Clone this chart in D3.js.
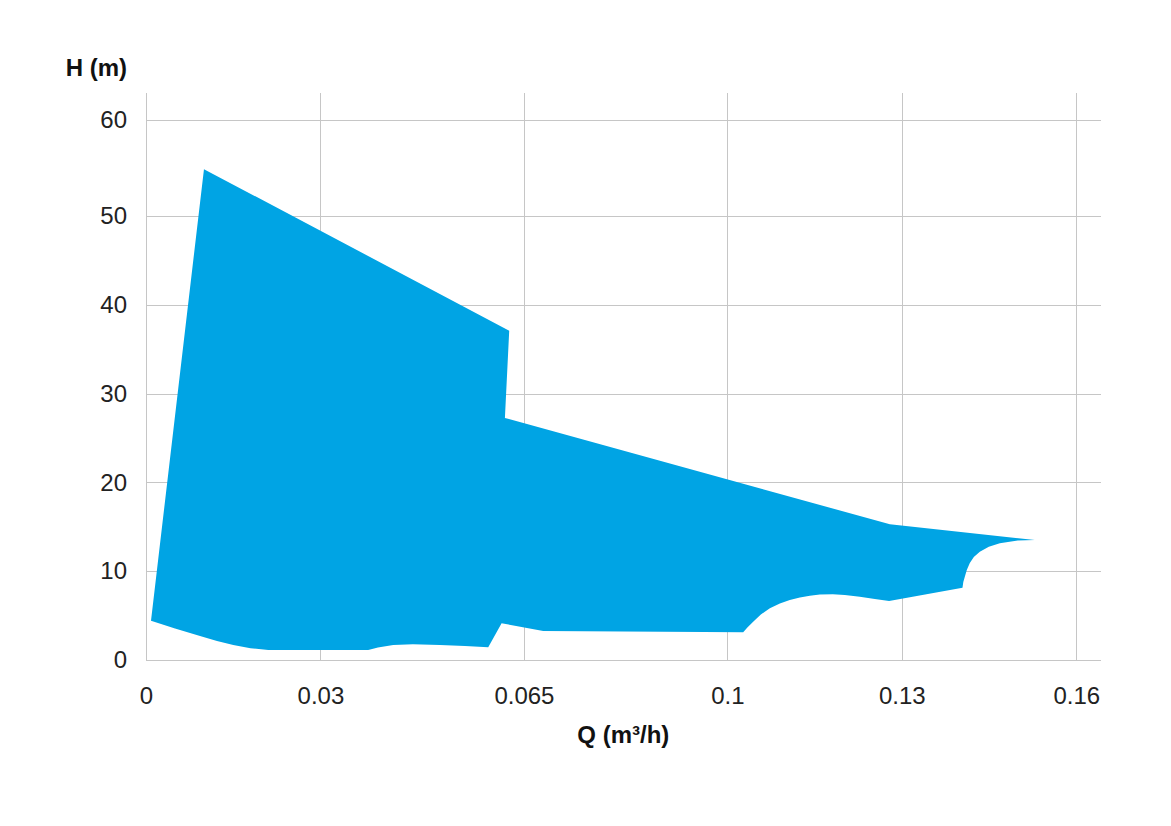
<!DOCTYPE html>
<html>
<head>
<meta charset="utf-8">
<script src="https://cdn.jsdelivr.net/npm/d3@7"></script>
<style>
  body { margin: 0; background: #fff; }
  .axis text { font-family: "Liberation Sans", Arial, sans-serif; font-size: 24px; fill: #222; }
  .axis line, .axis path { stroke: #c6c6c6; stroke-width: 1; shape-rendering: crispEdges; }
  .title { font-family: "Liberation Sans", Arial, sans-serif; font-size: 24px; font-weight: bold; fill: #111; }
</style>
</head>
<body>
<div id="chart"></div>
<script>
// Tick values and labels
var xTicks = [0, 0.03, 0.065, 0.1, 0.13, 0.16];
var xTickLabels = ["0", "0.03", "0.065", "0.1", "0.13", "0.16"];
var yTicks = [0, 10, 20, 30, 40, 50, 60.8];
var yTickLabels = ["0", "10", "20", "30", "40", "50", "60"];

// Operating range outline (clockwise)
var outlineQ = [
  0.00086, 0.00997, 0.06247, 0.06173, 0.12794, 0.15287,
  0.14994, 0.14685, 0.14496, 0.14341, 0.14238, 0.14169, 0.14117, 0.14083, 0.14057, 0.14043,
  0.12781, 0.12535, 0.12277, 0.12019, 0.11813, 0.11590, 0.11417, 0.11246, 0.11073, 0.10902,
  0.10730, 0.10575, 0.10443, 0.10343, 0.10271,
  0.06832, 0.06116, 0.05886, 0.05485, 0.05055, 0.04591, 0.04252, 0.03989, 0.03822,
  0.02103, 0.01797, 0.01501, 0.01221, 0.00929, 0.00499
];
var outlineH = [
  4.43, 55.26, 37.08, 27.25, 15.28, 13.51,
  13.45, 13.14, 12.75, 12.20, 11.60, 10.92, 10.14, 9.38, 8.78, 8.14,
  6.64, 6.87, 7.13, 7.32, 7.40, 7.38, 7.24, 7.04, 6.76, 6.36,
  5.82, 5.12, 4.31, 3.66, 3.12,
  3.27, 4.13, 1.43, 1.58, 1.69, 1.77, 1.69, 1.41, 1.13,
  1.13, 1.33, 1.69, 2.15, 2.70, 3.55
];

var totalWidth = 1171, totalHeight = 826;
var margin = { top: 93.3, right: 70.3, bottom: 166, left: 146 };
var width = totalWidth - margin.left - margin.right;
var height = totalHeight - margin.top - margin.bottom;

var x = d3.scaleLinear().domain([0, 0.1642]).range([0, width]);
var y = d3.scaleLinear().domain([0, 63.8]).range([height, 0]);

var svg = d3.select("#chart").append("svg")
    .attr("width", totalWidth)
    .attr("height", totalHeight)
  .append("g")
    .attr("transform", "translate(" + margin.left + "," + margin.top + ")");

// Grid + axes
svg.append("g")
    .attr("class", "axis")
    .attr("transform", "translate(0," + height + ")")
    .call(d3.axisBottom(x)
      .tickValues(xTicks)
      .tickFormat(function(d, i) { return xTickLabels[i]; })
      .tickSize(-height)
      .tickSizeOuter(0)
      .tickPadding(27));

svg.append("g")
    .attr("class", "axis")
    .call(d3.axisLeft(y)
      .tickValues(yTicks)
      .tickFormat(function(d, i) { return yTickLabels[i]; })
      .tickSize(-width)
      .tickSizeOuter(0)
      .tickPadding(19));

// Area
var points = outlineQ.map(function(q, i) { return [q, outlineH[i]]; });

var line = d3.line()
    .x(function(d) { return x(d[0]); })
    .y(function(d) { return y(d[1]); });

svg.append("path")
    .attr("d", line(points) + "Z")
    .attr("fill", "#00a4e4");

// Axis titles
svg.append("text")
    .attr("class", "title")
    .attr("x", -19)
    .attr("y", 75.7 - margin.top)
    .attr("text-anchor", "end")
    .text("H (m)");

svg.append("text")
    .attr("class", "title")
    .attr("x", width / 2)
    .attr("y", 743 - margin.top)
    .attr("text-anchor", "middle")
    .text("Q (m³/h)");
</script>
</body>
</html>
